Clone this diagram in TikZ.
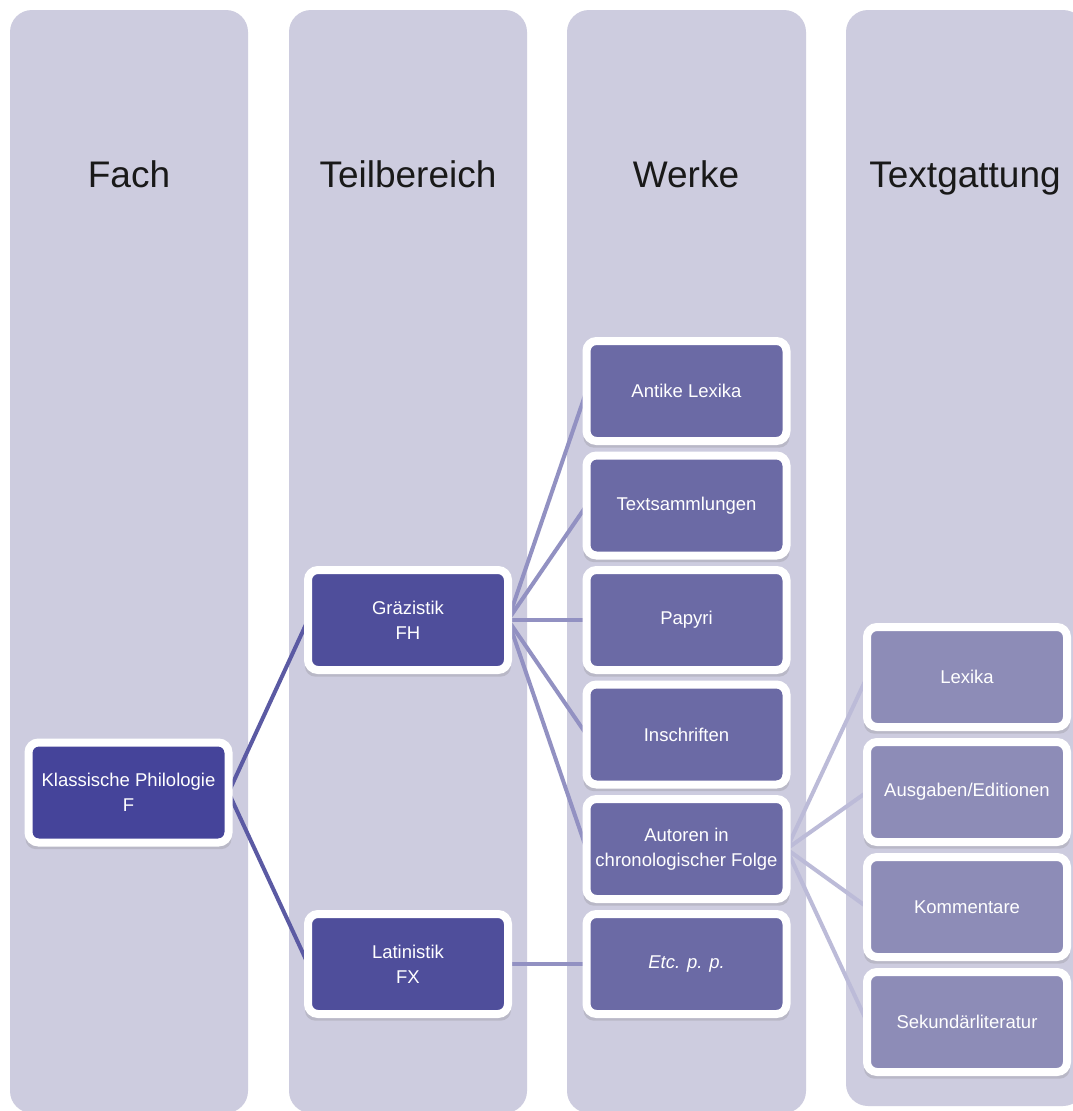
\documentclass[tikz,border=0pt]{standalone}
\usepackage{fontspec}
\setmainfont{Liberation Sans}
\usetikzlibrary{shadows}
\definecolor{panel}{HTML}{CDCCDF}
\definecolor{cA}{HTML}{45449A}
\definecolor{cB}{HTML}{4F4E9B}
\definecolor{cC}{HTML}{6B6AA5}
\definecolor{cD}{HTML}{8D8CB7}
\definecolor{eA}{HTML}{5B5AA3}
\definecolor{eB}{HTML}{9291C2}
\definecolor{eC}{HTML}{BCBBD8}
\pgfdeclarelayer{bg}
\pgfdeclarelayer{edges}
\pgfsetlayers{bg,edges,main}
\tikzset{
  panelbox/.style={fill=panel, rounded corners=22},
  heading/.style={font=\fontsize{37}{40}\selectfont, text=black!90, anchor=base},
  itembox/.style={draw=white, line width=8, rounded corners=10, minimum width=200, minimum height=100,
    outer sep=0, inner sep=0, text=white, font=\fontsize{18.5}{25}\selectfont, align=center,
    drop shadow={opacity=0.25, shadow xshift=0pt, shadow yshift=-5pt, shadow scale=1.03}},
  linkA/.style={draw=eA, line width=4},
  linkB/.style={draw=eB, line width=4},
  linkC/.style={draw=eC, line width=4},
}
\begin{document}
\begin{tikzpicture}[x=1pt,y=-1pt]
\useasboundingbox (0,0) rectangle (1073,1111);
\begin{pgfonlayer}{bg}
  \fill[white] (0,0) rectangle (1073,1111);
  \path[panelbox] (10,10) rectangle (248,1113);
  \path[panelbox] (289,10) rectangle (527,1113);
  \path[panelbox] (567,10) rectangle (806,1113);
  \path[panelbox] (846,10) rectangle (1085,1106);
\end{pgfonlayer}

\node[heading] (h1) at (129,187) {Fach};
\node[heading] (h2) at (408,187) {Teilbereich};
\node[heading] (h3) at (686,187) {Werke};
\node[heading] (h4) at (965,187) {Textgattung};

\node[itembox, fill=cA] (kp) at (128.5,792.5) {Klassische Philologie\\F};
\node[itembox, fill=cB] (gr) at (408,620) {Gräzistik\\FH};
\node[itembox, fill=cB] (la) at (408,964) {Latinistik\\FX};

\node[itembox, fill=cC] (w1) at (686.5,391) {Antike Lexika};
\node[itembox, fill=cC] (w2) at (686.5,505.5) {Textsammlungen};
\node[itembox, fill=cC] (w3) at (686.5,620) {Papyri};
\node[itembox, fill=cC] (w4) at (686.5,734.5) {Inschriften};
\node[itembox, fill=cC] (w5) at (686.5,849) {Autoren in\\chronologischer Folge};
\node[itembox, fill=cC] (w6) at (686.5,964) {\itshape Etc. p. p.};

\node[itembox, fill=cD] (t1) at (967,677) {Lexika};
\node[itembox, fill=cD] (t2) at (967,792) {Ausgaben/Editionen};
\node[itembox, fill=cD] (t3) at (967,907) {Kommentare};
\node[itembox, fill=cD] (t4) at (967,1022) {Sekundärliteratur};

\begin{pgfonlayer}{edges}
  \draw[linkA] (kp.east) -- (gr.west);
  \draw[linkA] (kp.east) -- (la.west);
  \foreach \w in {w1,w2,w3,w4,w5} \draw[linkB] (gr.east) -- (\w.west);
  \draw[linkB] (la.east) -- (w6.west);
  \foreach \t in {t1,t2,t3,t4} \draw[linkC] (w5.east) -- (\t.west);
\end{pgfonlayer}
\end{tikzpicture}
\end{document}
